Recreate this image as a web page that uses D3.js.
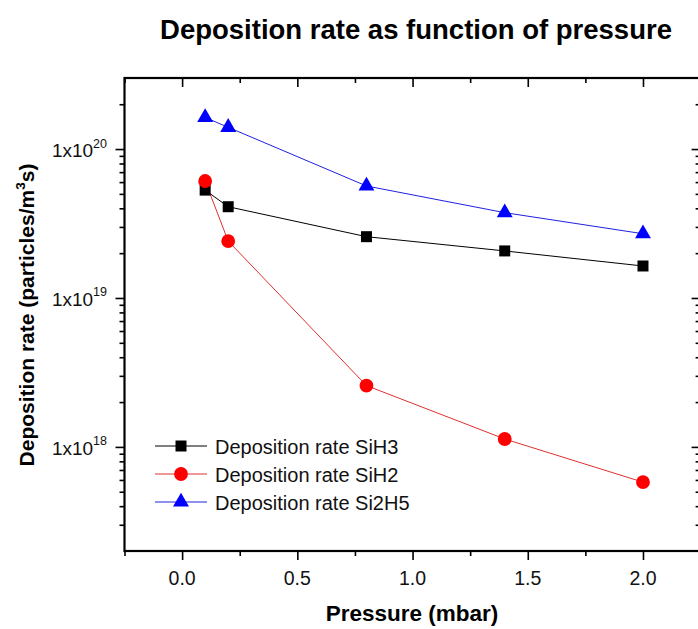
<!DOCTYPE html>
<html>
<head>
<meta charset="utf-8">
<script src="https://cdn.jsdelivr.net/npm/d3@7"></script>
<style>
  html, body { margin: 0; padding: 0; background: #fff; }
  svg { display: block; font-family: Arial, "Liberation Sans", sans-serif; }
</style>
</head>
<body>
<svg id="chart" width="698" height="629"></svg>
<script>
// ---- data ----
const pressure = [0.1, 0.2, 0.8, 1.4, 2.0];
const rateSiH3 = [5.3e19, 4.1e19, 2.58e19, 2.07e19, 1.64e19];
const rateSiH2 = [6.1e19, 2.41e19, 2.58e18, 1.13e18, 5.8e17];
const rateSi2H5 = [1.63e20, 1.40e20, 5.65e19, 3.74e19, 2.70e19];
const seriesNames = ["Deposition rate SiH3", "Deposition rate SiH2", "Deposition rate Si2H5"];
const xMajorTicks = [0, 0.5, 1.0, 1.5, 2.0];
const xTickLabels = ["0.0", "0.5", "1.0", "1.5", "2.0"];
const xMinorTicks = [-0.25, 0.25, 0.75, 1.25, 1.75, 2.25];
const yMajorTicks = [1e18, 1e19, 1e20];
const yTickExponents = ["18", "19", "20"];
const yMinorTicks = [3e17, 4e17, 5e17, 6e17, 7e17, 8e17, 9e17,
  2e18, 3e18, 4e18, 5e18, 6e18, 7e18, 8e18, 9e18,
  2e19, 3e19, 4e19, 5e19, 6e19, 7e19, 8e19, 9e19, 2e20];
const xDomain = [-0.25, 2.25];
const yDomain = [2e17, 3e20];

// ---- layout ----
const svg = d3.select("#chart");
const L = 124.5, R = 700.6, T = 78, B = 551;
const x = d3.scaleLinear().domain(xDomain).range([L, R]);
const y = d3.scaleLog().domain(yDomain).range([B, T]);

const series = [
  { name: seriesNames[0], values: rateSiH3, color: "#000000", line: "#000000", shape: "square" },
  { name: seriesNames[1], values: rateSiH2, color: "#ff0000", line: "#e03030", shape: "circle" },
  { name: seriesNames[2], values: rateSi2H5, color: "#0000ff", line: "#2020e0", shape: "triangle" }
];

function styleAxis(g, w) {
  g.select(".domain").remove();
  g.selectAll(".tick line").attr("stroke", "#000").attr("stroke-width", w);
}

// bottom axis (outward ticks)
svg.append("g").attr("transform", `translate(0,${B})`)
  .call(d3.axisBottom(x).tickValues(xMajorTicks).tickSize(9).tickFormat(""))
  .call(g => styleAxis(g, 1.6));
svg.append("g").attr("transform", `translate(0,${B})`)
  .call(d3.axisBottom(x).tickValues(xMinorTicks).tickSize(5).tickFormat(""))
  .call(g => styleAxis(g, 1.6));
// top axis (inward ticks)
svg.append("g").attr("transform", `translate(0,${T})`)
  .call(d3.axisBottom(x).tickValues(xMajorTicks).tickSize(9).tickFormat(""))
  .call(g => styleAxis(g, 1.6));
svg.append("g").attr("transform", `translate(0,${T})`)
  .call(d3.axisBottom(x).tickValues(xMinorTicks).tickSize(5).tickFormat(""))
  .call(g => styleAxis(g, 1.6));
// left axis (outward ticks)
svg.append("g").attr("transform", `translate(${L},0)`)
  .call(d3.axisLeft(y).tickValues(yMajorTicks).tickSize(9).tickFormat(""))
  .call(g => styleAxis(g, 1.6));
svg.append("g").attr("transform", `translate(${L},0)`)
  .call(d3.axisLeft(y).tickValues(yMinorTicks).tickSize(5).tickFormat(""))
  .call(g => styleAxis(g, 1.6));
// right axis (inward ticks)
svg.append("g").attr("transform", `translate(${R},0)`)
  .call(d3.axisLeft(y).tickValues(yMajorTicks).tickSize(9).tickFormat(""))
  .call(g => styleAxis(g, 1.6));
svg.append("g").attr("transform", `translate(${R},0)`)
  .call(d3.axisLeft(y).tickValues(yMinorTicks).tickSize(5).tickFormat(""))
  .call(g => styleAxis(g, 1.6));

// frame
svg.append("rect").attr("x", L).attr("y", T).attr("width", R - L).attr("height", B - T)
  .attr("fill", "none").attr("stroke", "#000").attr("stroke-width", 2.2);

// x tick labels
svg.append("g").selectAll("text").data(xMajorTicks).join("text")
  .attr("x", d => x(d)).attr("y", B + 34)
  .attr("text-anchor", "middle").attr("font-size", 19.5).attr("fill", "#111")
  .text((d, i) => xTickLabels[i]);

// y tick labels with superscripts
const yl = svg.append("g").selectAll("text").data(yMajorTicks).join("text")
  .attr("x", 107).attr("y", d => y(d) + 8)
  .attr("text-anchor", "end").attr("font-size", 19).attr("fill", "#111");
yl.append("tspan").text("1x10");
yl.append("tspan").attr("font-size", 12.5).attr("dy", -9.5).text((d, i) => yTickExponents[i]);

// lines and markers
const line = d3.line().x((d, i) => x(pressure[i])).y(d => y(d));
series.forEach(s => {
  svg.append("path").datum(s.values).attr("d", line)
    .attr("fill", "none").attr("stroke", s.line).attr("stroke-width", 1);
});
const symType = { square: d3.symbolSquare, circle: d3.symbolCircle, triangle: d3.symbolTriangle };
const symSize = { square: 121, circle: 150, triangle: 110 };
function drawMarker(g, shape, color, cx, cy) {
  g.append("path")
    .attr("d", d3.symbol().type(symType[shape]).size(symSize[shape])())
    .attr("transform", `translate(${cx},${cy})`)
    .attr("fill", color);
}
series.forEach(s => {
  const g = svg.append("g");
  s.values.forEach((v, i) => drawMarker(g, s.shape, s.color, x(pressure[i]), y(v)));
});

// legend
const legRows = [446, 474, 502];
series.forEach((s, i) => {
  const g = svg.append("g");
  g.append("line").attr("x1", 155).attr("x2", 207).attr("y1", legRows[i]).attr("y2", legRows[i])
    .attr("stroke", s.line).attr("stroke-width", 1);
  drawMarker(g, s.shape, s.color, 181, legRows[i]);
  g.append("text").attr("x", 215).attr("y", legRows[i] + 7.5)
    .attr("font-size", 20).attr("fill", "#111").text(s.name);
});

// titles
svg.append("text").attr("x", 416).attr("y", 39).attr("text-anchor", "middle")
  .attr("font-size", 27.5).attr("font-weight", "bold").text("Deposition rate as function of pressure");
svg.append("text").attr("x", 412).attr("y", 621).attr("text-anchor", "middle")
  .attr("font-size", 22.5).attr("font-weight", "bold").text("Pressure (mbar)");
const yt = svg.append("text").attr("transform", "translate(34,315) rotate(-90)")
  .attr("text-anchor", "middle").attr("font-size", 21).attr("font-weight", "bold");
yt.append("tspan").text("Deposition rate (particles/m");
yt.append("tspan").attr("font-size", 13.5).attr("dy", -9).text("3");
yt.append("tspan").attr("dy", 9).text("s)");
</script>
</body>
</html>
